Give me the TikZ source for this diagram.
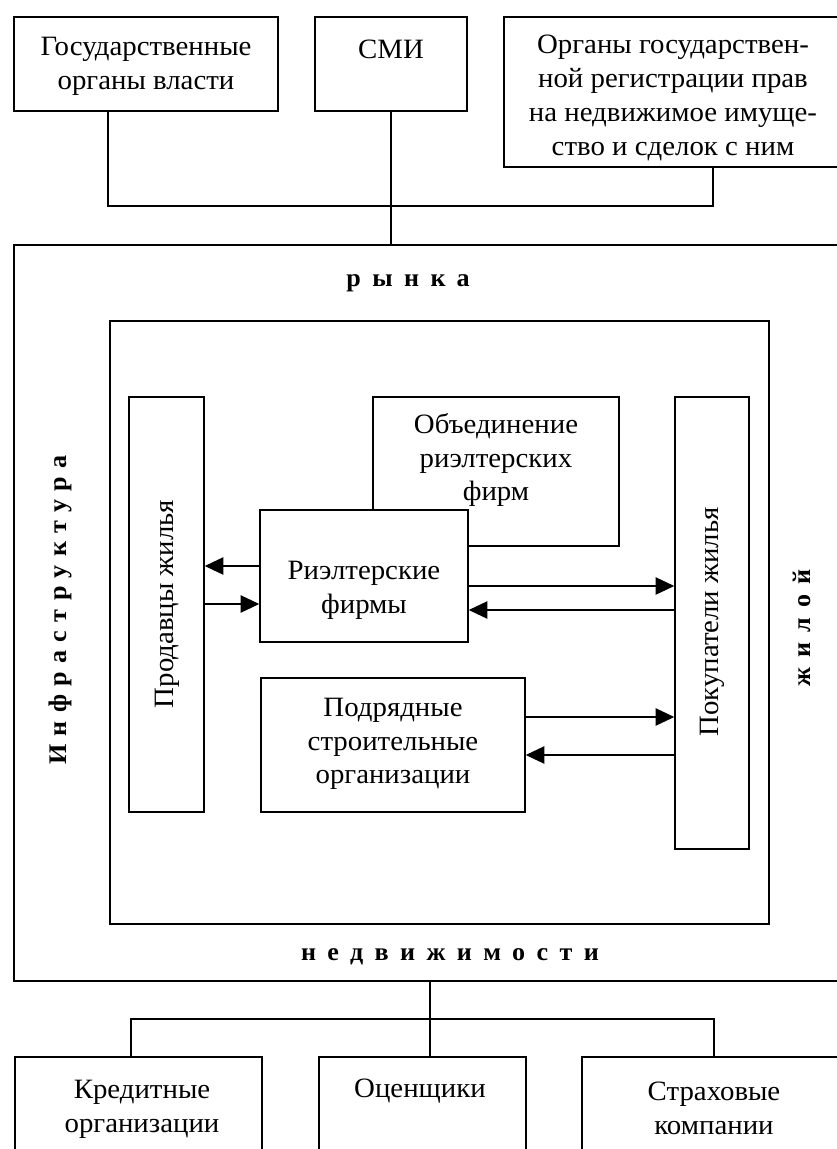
\documentclass[tikz,border=0pt]{standalone}
\usepackage{fontspec}
\setmainfont{Liberation Serif}[FakeStretch=1.03]
\usetikzlibrary{fit,arrows.meta}
\newcommand\lbltext{\fontsize{21pt}{25.3pt}\selectfont}
\newcommand\sbold{\fontsize{19pt}{21pt}\selectfont\bfseries}
\begin{document}
\begin{tikzpicture}[x=0.75pt,y=-0.75pt,
  box/.style={draw, line width=1.1pt, inner sep=0pt, fill=white},
  txt/.style={align=center, font=\lbltext, inner sep=0pt},
  big/.style={font=\sbold, inner sep=0pt},
  link/.style={line width=1.1pt},
  arr/.style={line width=1.1pt, -{Triangle[length=14pt,width=13pt]}}]
\useasboundingbox (0,0) rectangle (837,1149);
\fill[white] (0,0) rectangle (837,1149);
\clip (0,0) rectangle (837,1149);

% top row
\node[box, fit={(14,17) (278,111)}] (b1) {};
\node[txt] (b1t) at (146,66) {Государственные\\органы власти};
\node[box, fit={(315,17) (467,111)}] (smi) {};
\node[txt] (smit) at (391,49) {СМИ};
\node[box, fit={(504,17) (850,167)}] (b3) {};
\node[txt] (b3t) at (673,98) {Органы государствен-\\ной регистрации прав\\на недвижимое имуще-\\ство и сделок с ним};

% outer and inner frames
\node[box, fit={(14,245) (850,981)}] (outer) {};
\node[box, fit={(110,321) (769,924)}] (inner) {};
\node[big] (rynka) at (408,283) {\addfontfeature{LetterSpace=45}рынка};
\node[big] (nedv) at (450,957) {\addfontfeature{LetterSpace=45}недвижимости};
\node[big, rotate=90] (infra) at (60,610) {\addfontfeature{LetterSpace=33}Инфраструктура};
\node[big, rotate=90] (zhil) at (802,628) {\addfontfeature{LetterSpace=40}жилой};

% inner boxes
\node[box, fit={(129,397) (204,812)}] (prod) {};
\node[txt, rotate=90] (prodt) at (167,604) {Продавцы жилья};
\node[box, fit={(675,397) (749,849)}] (pok) {};
\node[txt, rotate=90] (pokt) at (712,622) {Покупатели жилья};
\node[box, fit={(373,397) (619,546)}] (obj) {};
\node[txt] (objt) at (496,460) {Объединение\\риэлтерских\\фирм};
\node[box, fit={(260,510) (468,642)}] (rf) {};
\node[txt] (rft) at (364,590) {Риэлтерские\\фирмы};
\node[box, fit={(261,678) (525,812)}] (pod) {};
\node[txt] (podt) at (393,744) {Подрядные\\строительные\\организации};

% bottom row
\node[box, fit={(15,1057) (262,1170)}] (kred) {};
\node[txt] (kredt) at (142,1109) {Кредитные\\организации};
\node[box, fit={(319,1057) (526,1170)}] (ocen) {};
\node[txt] (ocent) at (420,1091) {Оценщики};
\node[box, fit={(582,1057) (850,1170)}] (strah) {};
\node[txt] (straht) at (714,1108) {Страховые\\компании};

% top connectors
\coordinate (j1) at (108,206);
\coordinate (j3) at (713,206);
\draw[link] (b1.south -| j1) -- (j1) -- (j3) -- (b3.south -| j3);
\draw[link] (smi.south) -- (smi.south |- outer.north);

% bottom connectors
\coordinate (k1) at (131,1019);
\coordinate (k2) at (430,1019);
\coordinate (k3) at (714,1019);
\draw[link] (kred.north -| k1) -- (k1) -- (k3) -- (strah.north -| k3);
\draw[link] (outer.south -| k2) -- (ocen.north -| k2);

% arrows
\coordinate (a1) at (0,566);
\coordinate (a2) at (0,604);
\coordinate (a3) at (0,586);
\coordinate (a4) at (0,610);
\coordinate (a5) at (0,717);
\coordinate (a6) at (0,755);
\draw[arr] (rf.west |- a1) -- (prod.east |- a1);
\draw[arr] (prod.east |- a2) -- (rf.west |- a2);
\draw[arr] (rf.east |- a3) -- (pok.west |- a3);
\draw[arr] (pok.west |- a4) -- (rf.east |- a4);
\draw[arr] (pod.east |- a5) -- (pok.west |- a5);
\draw[arr] (pok.west |- a6) -- (pod.east |- a6);
\end{tikzpicture}
\end{document}
